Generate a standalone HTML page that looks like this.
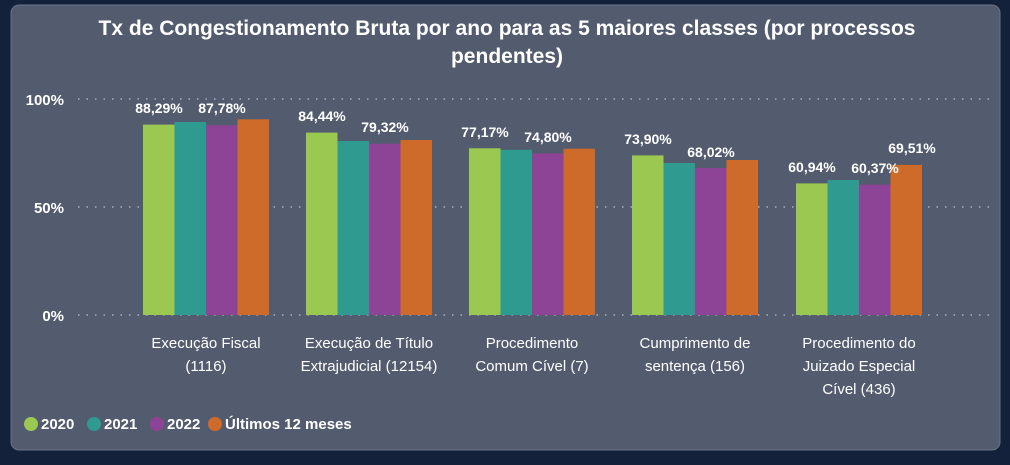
<!DOCTYPE html><html><head><style>
body{margin:0;width:1010px;height:460px;background:#13223a;overflow:hidden;font-family:"Liberation Sans",sans-serif}
</style></head><body>
<svg width="1010" height="460" xmlns="http://www.w3.org/2000/svg" font-family="Liberation Sans, sans-serif">
<rect x="11" y="5" width="989" height="445" rx="8" fill="#525c6e" stroke="#6a7384"/>
<g fill="#fff" font-weight="bold" font-size="21" text-anchor="middle">
<text x="507" y="35">Tx de Congestionamento Bruta por ano para as 5 maiores classes (por processos</text>
<text x="507" y="63">pendentes)</text></g>
<g stroke="#a9b0bb" stroke-width="1.5" stroke-dasharray="1.5 7">
<line x1="78" y1="99" x2="990" y2="99"/><line x1="78" y1="207" x2="990" y2="207"/><line x1="78" y1="315" x2="990" y2="315"/></g>
<g fill="#fff" font-size="15" font-weight="bold" text-anchor="end">
<text x="64" y="105">100%</text><text x="64" y="213">50%</text><text x="64" y="321">0%</text></g>
<g>
<rect x="143" y="124.6" width="31.5" height="190.4" fill="#9bc850"/><rect x="174.5" y="122" width="31.5" height="193" fill="#2e9a90"/><rect x="206" y="125.3" width="31.5" height="189.7" fill="#8e4496"/><rect x="237.5" y="119.3" width="31.5" height="195.7" fill="#cf6b2a"/>
<rect x="306" y="132.6" width="31.5" height="182.4" fill="#9bc850"/><rect x="337.5" y="141" width="31.5" height="174" fill="#2e9a90"/><rect x="369" y="143.7" width="31.5" height="171.3" fill="#8e4496"/><rect x="400.5" y="140" width="31.5" height="175" fill="#cf6b2a"/>
<rect x="469" y="148.3" width="31.5" height="166.7" fill="#9bc850"/><rect x="500.5" y="149.8" width="31.5" height="165.2" fill="#2e9a90"/><rect x="532" y="153.4" width="31.5" height="161.6" fill="#8e4496"/><rect x="563.5" y="148.7" width="31.5" height="166.3" fill="#cf6b2a"/>
<rect x="632" y="155.4" width="31.5" height="159.6" fill="#9bc850"/><rect x="663.5" y="163" width="31.5" height="152" fill="#2e9a90"/><rect x="695" y="168.1" width="31.5" height="146.9" fill="#8e4496"/><rect x="726.5" y="160" width="31.5" height="155" fill="#cf6b2a"/>
<rect x="796" y="183.4" width="31.5" height="131.6" fill="#9bc850"/><rect x="827.5" y="180" width="31.5" height="135" fill="#2e9a90"/><rect x="859" y="184.6" width="31.5" height="130.4" fill="#8e4496"/><rect x="890.5" y="164.9" width="31.5" height="150.1" fill="#cf6b2a"/>
</g>
<g fill="#fff" font-size="14" font-weight="bold" text-anchor="middle">
<text x="159" y="113">88,29%</text><text x="222" y="113">87,78%</text>
<text x="322" y="121">84,44%</text><text x="385" y="132">79,32%</text>
<text x="485" y="137">77,17%</text><text x="548" y="142">74,80%</text>
<text x="648" y="144">73,90%</text><text x="711" y="157">68,02%</text>
<text x="812" y="172">60,94%</text><text x="875" y="173">60,37%</text><text x="912" y="153">69,51%</text></g>
<g fill="#fff" font-size="15" text-anchor="middle">
<text x="206" y="348">Execução Fiscal</text><text x="206" y="371">(1116)</text>
<text x="369" y="348">Execução de Título</text><text x="369" y="371">Extrajudicial (12154)</text>
<text x="532" y="348">Procedimento</text><text x="532" y="371">Comum Cível (7)</text>
<text x="695" y="348">Cumprimento de</text><text x="695" y="371">sentença (156)</text>
<text x="859" y="348">Procedimento do</text><text x="859" y="371">Juizado Especial</text><text x="859" y="394">Cível (436)</text></g>
<g font-size="15" fill="#fff" font-weight="bold">
<circle cx="31" cy="424" r="7" fill="#9bc850"/><text x="41" y="429">2020</text>
<circle cx="94" cy="424" r="7" fill="#2e9a90"/><text x="104" y="429">2021</text>
<circle cx="157" cy="424" r="7" fill="#8e4496"/><text x="167" y="429">2022</text>
<circle cx="215" cy="424" r="7" fill="#cf6b2a"/><text x="225" y="429">Últimos 12 meses</text></g>
</svg></body></html>
